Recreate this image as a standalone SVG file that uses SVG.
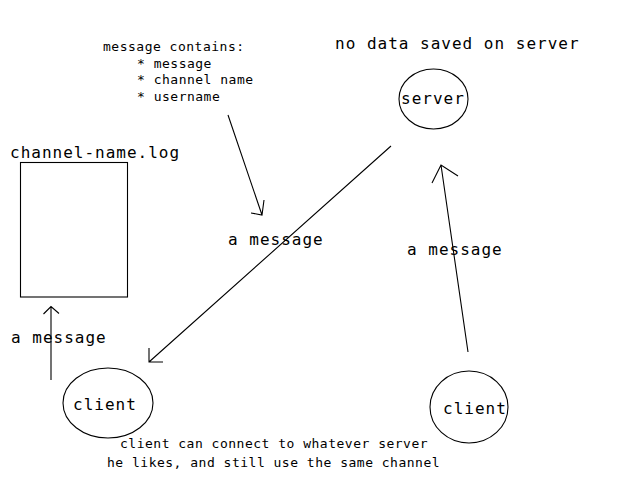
<svg xmlns="http://www.w3.org/2000/svg" width="640" height="480" viewBox="0 0 640 480">
<style>
text{font-family:"DejaVu Sans Mono","Liberation Mono",monospace;fill:#000}
.l{font-size:16px;letter-spacing:1px}
.s{font-size:13px;letter-spacing:0.5px}
.sh{fill:#fff;stroke:#000;stroke-width:1.1}
.c{fill:none;stroke:#000;stroke-width:1.1}
</style>
<rect width="640" height="480" fill="#fff"/>
<g id="note">
<text class="s" x="103" y="51">message contains:</text>
<text class="s" x="137" y="68">* message</text>
<text class="s" x="137" y="84">* channel name</text>
<text class="s" x="137" y="101">* username</text>
</g>
<g id="server-note"><text class="l" x="335" y="49">no data saved on server</text></g>
<g id="server">
<ellipse class="sh" cx="433.5" cy="99" rx="34.5" ry="30"/>
<text class="l" x="401" y="104">server</text>
</g>
<g id="log">
<text class="l" x="10" y="158">channel-name.log</text>
<rect class="sh" x="20.5" y="162.5" width="107" height="134.5"/>
</g>
<g id="client1">
<ellipse class="sh" cx="108" cy="403" rx="45" ry="35"/>
<text class="l" x="73" y="410">client</text>
</g>
<g id="client2">
<ellipse class="sh" cx="469" cy="407" rx="39" ry="36"/>
<text class="l" x="443" y="414">client</text>
</g>
<g id="bottom-note">
<text class="s" x="120" y="448">client can connect to whatever server</text>
<text class="s" x="107" y="467">he likes, and still use the same channel</text>
</g>
<g id="connectors">
<path class="c" d="M51,380 L51,307 M43.5,314 L51,306.5 L59,313.5"/>
<path class="c" d="M391,146 L149,362 M149,348 L149,362 L163,362"/>
<path class="c" d="M228,115 L262,215 M251,213 L262,215 L264,200"/>
<path class="c" d="M468,352 L441,165 M432,183 L441,165 L458,176"/>
<text class="l" x="228" y="245">a message</text>
<text class="l" x="407" y="255">a message</text>
<text class="l" x="11" y="343">a message</text>
</g>
</svg>
